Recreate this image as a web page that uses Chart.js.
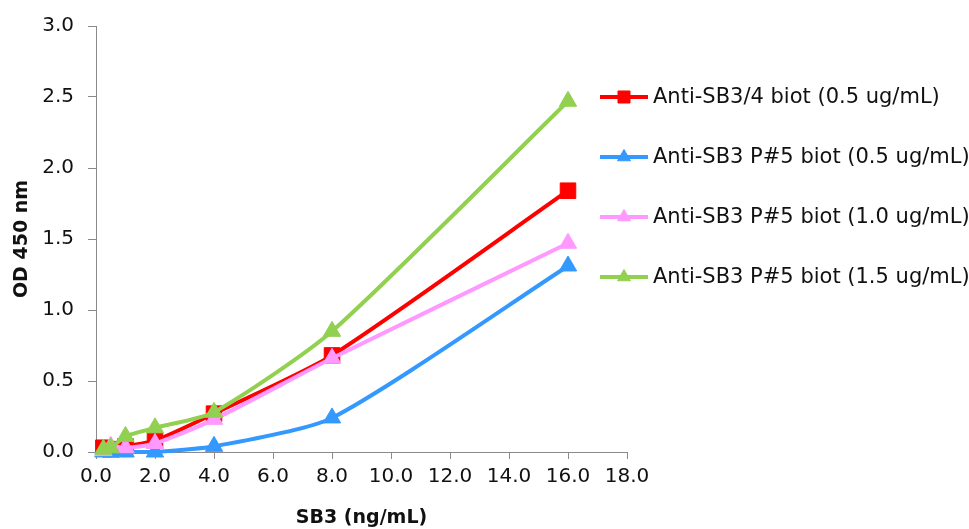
<!DOCTYPE html>
<html>
<head>
<meta charset="utf-8">
<script src="https://cdn.jsdelivr.net/npm/chart.js@4/dist/chart.umd.min.js"></script>
<style>
  html, body { margin: 0; padding: 0; background: #ffffff; }
  #wrap { width: 969px; height: 529px; position: relative; }
</style>
</head>
<body>
<div id="wrap"><canvas id="c" width="969" height="529"></canvas></div>
<script>
// ---- data ----
const concentrations = [0.25, 0.5, 1, 2, 4, 8, 16];
const seriesLabels = [
  'Anti-SB3/4 biot (0.5 ug/mL)',
  'Anti-SB3 P#5 biot (0.5 ug/mL)',
  'Anti-SB3 P#5 biot (1.0 ug/mL)',
  'Anti-SB3 P#5 biot (1.5 ug/mL)'
];
const sb34_05 = [0.03, 0.02, 0.04, 0.08, 0.27, 0.68, 1.84];
const p5_05   = [0.00, 0.00, 0.00, 0.00, 0.04, 0.24, 1.31];
const p5_10   = [0.01, 0.04, 0.03, 0.06, 0.23, 0.66, 1.47];
const p5_15   = [0.02, 0.03, 0.11, 0.17, 0.28, 0.85, 2.47];
const xTickLabels = ['0.0','2.0','4.0','6.0','8.0','10.0','12.0','14.0','16.0','18.0'];
const yTickLabels = ['0.0','0.5','1.0','1.5','2.0','2.5','3.0'];
const xTitle = 'SB3 (ng/mL)';
const yTitle = 'OD 450 nm';

// ---- styles ----
const colors = ['#FF0000', '#3399FF', '#FF99FF', '#92D050'];
const styles = ['rect', 'triangle', 'triangle', 'triangle'];
const radii = [11, 10, 10, 10];
const seriesValues = [sb34_05, p5_05, p5_10, p5_15];

const FONT = "'DejaVu Sans', 'Liberation Sans', Arial, sans-serif";

const datasets = seriesValues.map((vals, i) => ({
  label: seriesLabels[i],
  data: concentrations.map((x, j) => ({ x: x, y: vals[j] })),
  borderColor: colors[i],
  backgroundColor: colors[i],
  pointBackgroundColor: colors[i],
  pointBorderColor: colors[i],
  pointStyle: styles[i],
  pointRadius: radii[i],
  pointBorderWidth: 1,
  borderWidth: 4,
  tension: 0.22,
  clip: false,
  order: 3 - i
}));

const legendPlugin = {
  id: 'customLegend',
  afterDraw(chart) {
    const ctx = chart.ctx;
    const x0 = 600, x1 = 648, textX = 653;
    const yStart = 97, dy = 60;
    ctx.save();
    chart.data.datasets.forEach((ds, i) => {
      const y = yStart + i * dy;
      ctx.strokeStyle = ds.borderColor;
      ctx.fillStyle = ds.borderColor;
      ctx.lineWidth = 4;
      ctx.beginPath();
      ctx.moveTo(x0, y);
      ctx.lineTo(x1, y);
      ctx.stroke();
      ctx.lineWidth = 1;
      Chart.helpers.drawPoint(ctx, {
        pointStyle: ds.pointStyle,
        radius: ds.pointStyle === 'rect' ? 8.5 : 7.5,
        rotation: 0,
        borderWidth: 1
      }, (x0 + x1) / 2, y);
      ctx.fillStyle = '#111111';
      ctx.font = '21px ' + FONT;
      ctx.textAlign = 'left';
      ctx.textBaseline = 'middle';
      ctx.fillText(ds.label, textX, y + 1);
    });
    ctx.restore();
  }
};

new Chart(document.getElementById('c'), {
  type: 'line',
  data: { datasets: datasets },
  options: {
    responsive: false,
    animation: false,
    devicePixelRatio: 1,
    layout: { padding: { left: 0, right: 342, top: 25, bottom: 0 } },
    plugins: {
      legend: { display: false },
      tooltip: { enabled: false }
    },
    scales: {
      x: {
        type: 'linear',
        min: 0,
        max: 18,
        afterFit(scale) { scale.height = 77; },
        border: { color: '#8a8a8a', width: 1 },
        grid: { drawOnChartArea: false, drawTicks: true, tickLength: 7, color: '#8a8a8a' },
        ticks: {
          stepSize: 2,
          color: '#111111',
          padding: 6,
          maxRotation: 0,
          font: { family: FONT, size: 20 },
          callback: (v) => xTickLabels[Math.round(v / 2)]
        },
        title: {
          display: true,
          text: xTitle,
          color: '#111111',
          padding: { top: 0, bottom: 0 },
          font: { family: FONT, size: 19, weight: 'bold' }
        }
      },
      y: {
        type: 'linear',
        min: 0,
        max: 3,
        afterFit(scale) { scale.width = 96; },
        border: { color: '#8a8a8a', width: 1 },
        grid: { drawOnChartArea: false, drawTicks: true, tickLength: 8, color: '#8a8a8a' },
        ticks: {
          stepSize: 0.5,
          color: '#111111',
          padding: 14,
          font: { family: FONT, size: 20 },
          callback: (v) => yTickLabels[Math.round(v / 0.5)]
        },
        title: {
          display: true,
          text: yTitle,
          color: '#111111',
          padding: { top: 11, bottom: 0 },
          font: { family: FONT, size: 19, weight: 'bold' }
        }
      }
    }
  },
  plugins: [legendPlugin]
});
</script>
</body>
</html>
